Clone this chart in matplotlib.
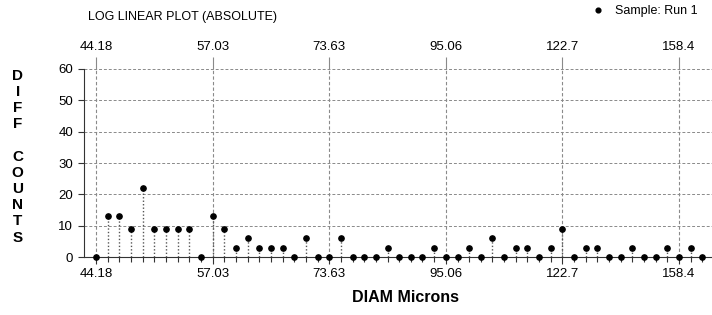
import matplotlib
matplotlib.use('Agg')
import matplotlib.pyplot as plt
from matplotlib.ticker import FixedLocator, NullFormatter

plt.rcParams['font.family'] = ['Liberation Sans', 'DejaVu Sans']

# bin diameters (microns), log spaced
diam = [44.18, 45.32, 46.50, 47.70, 48.93, 50.20, 51.50, 52.83, 54.19, 55.60,
        57.03, 58.51, 60.02, 61.57, 63.16, 64.80, 66.47, 68.19, 69.96, 71.77,
        73.63, 75.53, 77.49, 79.49, 81.55, 83.66, 85.82, 88.04, 90.32, 92.65,
        95.06, 97.52, 100.04, 102.63, 105.28, 108.01, 110.80, 113.67, 116.61, 119.62,
        122.7, 125.87, 129.13, 132.47, 135.90, 139.41, 143.02, 146.72, 150.51, 154.40,
        158.4, 162.50, 166.70]
counts = [0, 13, 13, 9, 22, 9, 9, 9, 9, 0,
          13, 9, 3, 6, 3, 3, 3, 0, 6, 0,
          0, 6, 0, 0, 0, 3, 0, 0, 0, 3,
          0, 0, 3, 0, 6, 0, 3, 3, 0, 3,
          9, 0, 3, 3, 0, 0, 3, 0, 0, 3,
          0, 3, 0]
tick_vals = [44.18, 57.03, 73.63, 95.06, 122.7, 158.4]
tick_labels = ['44.18', '57.03', '73.63', '95.06', '122.7', '158.4']

fig = plt.figure(figsize=(7.12, 3.15), dpi=100)
ax = fig.add_axes([0.118, 0.184, 0.882, 0.597])

ax.set_xscale('log')
ax.set_xlim(43.03, 170.3)
ax.set_ylim(0, 60)

gridc = '#8a8a8a'
ax.vlines(diam, 0, counts, colors='#555555', linestyles=(0, (1, 1.5)), lw=1.0, zorder=2)
ax.plot(diam, counts, 'o', color='black', ms=3.8, clip_on=False, zorder=3,
        label='Sample: Run 1')

ax.set_yticks(range(0, 61, 10))
ax.grid(axis='y', color=gridc, linestyle=(0, (3, 2)), lw=0.7)
ax.grid(axis='x', which='major', color=gridc, linestyle=(0, (3, 2)), lw=0.8)

ax.xaxis.set_major_locator(FixedLocator(tick_vals))
ax.set_xticklabels(tick_labels)
ax.xaxis.set_minor_locator(FixedLocator(diam))
ax.xaxis.set_minor_formatter(NullFormatter())
ax.tick_params(axis='x', which='major', length=5, width=0.8, pad=3, labelsize=9.5, color='#333333')
ax.tick_params(axis='x', which='minor', length=3.3, width=0.8, color='#333333')
ax.tick_params(axis='y', length=4.3, width=0.8, pad=3.5, labelsize=9.5, color='#333333')

top = ax.secondary_xaxis('top')
top.xaxis.set_major_locator(FixedLocator(tick_vals))
top.set_xticklabels(tick_labels)
top.xaxis.set_minor_locator(FixedLocator([]))
top.tick_params(length=8.6, width=0.8, pad=3, labelsize=9.5, color=gridc)
top.spines['top'].set_visible(False)

ax.spines['top'].set_visible(False)
ax.spines['right'].set_visible(False)
ax.spines['left'].set_color('#333333')
ax.spines['bottom'].set_color('#333333')

fig.text(0.256, 0.946, 'LOG LINEAR PLOT (ABSOLUTE)', ha='center', va='center', fontsize=9)
fig.text(0.025, 0.503, 'D\nI\nF\nF\n\nC\nO\nU\nN\nT\nS', ha='center', va='center',
         fontsize=11, fontweight='bold', linespacing=1.2)
fig.text(0.569, 0.057, 'DIAM Microns', ha='center', va='center', fontsize=11.5, fontweight='bold')

fig.legend(loc='upper right', bbox_to_anchor=(0.995, 1.02), frameon=False, fontsize=9,
           handlelength=1.0, handletextpad=0.8, markerscale=0.9)

fig.savefig('out.png', dpi=100)
